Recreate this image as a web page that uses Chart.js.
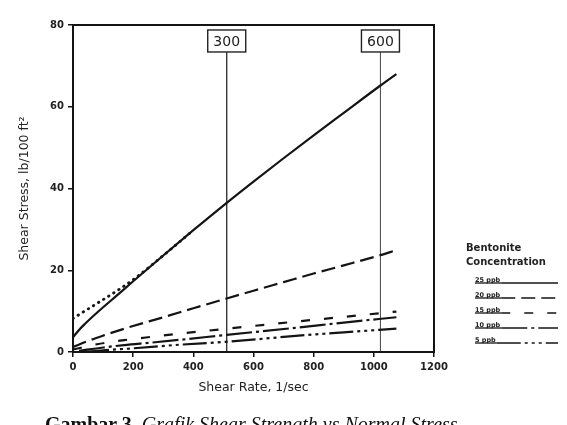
<!DOCTYPE html>
<html><head><meta charset="utf-8">
<script src="https://cdn.jsdelivr.net/npm/chart.js@4/dist/chart.umd.min.js"></script>
<style>
html,body{margin:0;padding:0;background:#fff;}
#wrap{position:relative;width:567px;height:425px;overflow:hidden;background:#fff;}
canvas{position:absolute;left:0;top:0;}
#caption{position:absolute;left:45px;top:414px;white-space:nowrap;font-family:"Liberation Serif",serif;font-size:20px;line-height:20px;color:#111;width:475px;overflow:hidden;}
</style></head><body>
<div id="wrap"><canvas id="c" width="567" height="425"></canvas>
<div id="caption"><b>Gambar 3.</b> <i>Grafik Shear Strength vs Normal Stress</i></div></div>
<script>
// ---- data ----
const xTicks = [0, 200, 400, 600, 800, 1000, 1200];
const yTicks = [0, 20, 40, 60, 80];
const seriesLabels = ['25 ppb', '20 ppb', '15 ppb', '10 ppb', '5 ppb'];

const rate25   = [0, 20, 40, 84, 150, 200, 300, 400, 511, 600, 700, 800, 900, 1022, 1075];
const stress25 = [3.6, 5.4, 6.9, 9.9, 14.1, 17.3, 23.6, 29.8, 36.5, 41.7, 47.4, 53.0, 58.5, 65.2, 68.0];

const rate20   = [0, 50, 100, 179, 300, 400, 511, 600, 700, 800, 900, 1022, 1075];
const stress20 = [1.2, 2.7, 4.0, 5.9, 8.5, 10.7, 13.1, 15.0, 17.1, 19.2, 21.2, 23.7, 24.9];

const rate15   = [0, 80, 170, 260, 357, 511, 750, 900, 1022, 1075];
const stress15 = [0.6, 1.9, 2.9, 3.7, 4.5, 5.7, 7.5, 8.6, 9.5, 9.9];

const rate10   = [20, 100, 170, 260, 357, 511, 750, 900, 1075];
const stress10 = [0.3, 1.1, 1.7, 2.3, 3.0, 4.2, 6.0, 7.2, 8.5];

const rate5    = [40, 100, 200, 357, 511, 750, 900, 1075];
const stress5  = [0.0, 0.4, 0.9, 1.8, 2.5, 4.0, 4.8, 5.7];

const binghamRate   = [0, 200, 300, 400];
const binghamStress = [8.2, 17.7, 23.6, 29.8];

const refRates  = [511, 1022];
const refLabels = ['300', '600'];
const refTop    = 73.4;

// ---- build ----
const pts = (xs, ys) => xs.map((x, i) => ({x, y: ys[i]}));
const INK = '#141414';

const datasets = [
  {label: seriesLabels[0], data: pts(rate25, stress25), borderColor: INK, borderWidth: 2.2, borderDash: [], cubicInterpolationMode: 'monotone'},
  {label: seriesLabels[1], data: pts(rate20, stress20), borderColor: INK, borderWidth: 2.2, borderDash: [14, 6], cubicInterpolationMode: 'monotone'},
  {label: seriesLabels[2], data: pts(rate15, stress15), borderColor: INK, borderWidth: 2.2, borderDash: [9, 14], cubicInterpolationMode: 'monotone'},
  {label: seriesLabels[3], data: pts(rate10, stress10), borderColor: INK, borderWidth: 2.2, borderDash: [26, 4, 3, 4], cubicInterpolationMode: 'monotone'},
  {label: seriesLabels[4], data: pts(rate5, stress5), borderColor: INK, borderWidth: 2.2, borderDash: [24, 4, 3, 4, 3, 4, 3, 4], cubicInterpolationMode: 'monotone'},
  {label: 'bingham', data: pts(binghamRate, binghamStress), borderColor: INK, borderWidth: 2.8, borderDash: [0.5, 5.5], borderCapStyle: 'round', cubicInterpolationMode: 'monotone'}
];
refRates.forEach((r, i) => datasets.push({
  label: 'ref' + refLabels[i], data: [{x: r, y: 0}, {x: r, y: refTop}],
  borderColor: i === 0 ? '#2a2a2a' : '#555', borderWidth: i === 0 ? 1.3 : 1.1, borderDash: []
}));

const decor = {
  id: 'decor',
  afterDatasetsDraw(chart) {
    const {ctx, chartArea: a, scales: {x, y}} = chart;
    ctx.save();
    // frame
    ctx.strokeStyle = INK; ctx.lineWidth = 2; ctx.setLineDash([]);
    ctx.strokeRect(a.left, a.top, a.right - a.left, a.bottom - a.top);
    // reference boxes
    ctx.font = '14px "DejaVu Sans"'; ctx.textAlign = 'center'; ctx.textBaseline = 'middle';
    refRates.forEach((r, i) => {
      const px = x.getPixelForValue(r), pb = y.getPixelForValue(refTop);
      const w = 38, h = 22;
      ctx.fillStyle = '#fff'; ctx.fillRect(px - w / 2, pb - h, w, h);
      ctx.lineWidth = 1.4; ctx.strokeStyle = '#222';
      ctx.strokeRect(px - w / 2, pb - h, w, h);
      ctx.fillStyle = '#222'; ctx.fillText(refLabels[i], px, pb - h / 2 + 1);
    });
    // legend
    ctx.textAlign = 'left'; ctx.textBaseline = 'alphabetic'; ctx.fillStyle = '#222';
    ctx.font = 'bold 10px "DejaVu Sans"';
    ctx.fillText('Bentonite', 466, 251);
    ctx.fillText('Concentration', 466, 265);
    seriesLabels.forEach((lab, i) => {
      const ly = 283 + i * 15;
      ctx.font = 'bold 6.5px "DejaVu Sans"';
      ctx.fillStyle = '#222';
      ctx.fillText(lab, 475, ly - 1.5);
      const tw = ctx.measureText(lab).width;
      ctx.strokeStyle = INK; ctx.lineWidth = 1.3; ctx.setLineDash([]);
      ctx.beginPath(); ctx.moveTo(475, ly); ctx.lineTo(475 + tw + 1, ly); ctx.stroke();
      const ds = chart.data.datasets[i];
      ctx.lineWidth = 1.6; ctx.setLineDash(ds.borderDash || []);
      ctx.beginPath(); ctx.moveTo(475 + tw + 1, ly); ctx.lineTo(558, ly); ctx.stroke();
    });
    ctx.restore();
  }
};

new Chart(document.getElementById('c'), {
  type: 'line',
  data: {datasets},
  plugins: [decor],
  options: {
    responsive: false, animation: false, devicePixelRatio: 1,
    layout: {padding: {left: 0, right: 133, top: 25, bottom: 0}},
    plugins: {legend: {display: false}, tooltip: {enabled: false}},
    elements: {point: {radius: 0}, line: {fill: false}},
    scales: {
      x: {
        type: 'linear', min: xTicks[0], max: xTicks[xTicks.length - 1],
        afterBuildTicks: s => { s.ticks = xTicks.map(v => ({value: v})); },
        afterFit: s => { s.height = 73; },
        grid: {drawOnChartArea: false, drawTicks: true, tickLength: 5, color: INK, lineWidth: 1.5},
        border: {display: true, color: INK, width: 2},
        ticks: {color: '#222', font: {family: 'DejaVu Sans', size: 10, weight: 'bold'}, padding: 4, maxRotation: 0, callback: v => String(v)},
        title: {display: true, text: 'Shear Rate, 1/sec', color: '#222', font: {family: 'DejaVu Sans', size: 12.5}, padding: {top: 0, bottom: 30}}
      },
      y: {
        type: 'linear', min: yTicks[0], max: yTicks[yTicks.length - 1],
        afterBuildTicks: s => { s.ticks = yTicks.map(v => ({value: v})); },
        afterFit: s => { s.width = 73; },
        grid: {drawOnChartArea: false, drawTicks: true, tickLength: 5, color: INK, lineWidth: 1.5},
        border: {display: true, color: INK, width: 2},
        ticks: {color: '#222', font: {family: 'DejaVu Sans', size: 10, weight: 'bold'}, padding: 4, callback: v => String(v)},
        title: {display: true, text: 'Shear Stress, lb/100 ft²', color: '#222', font: {family: 'DejaVu Sans', size: 12.5}, padding: {top: 17, bottom: 0}}
      }
    }
  }
});
</script>
</body></html>
